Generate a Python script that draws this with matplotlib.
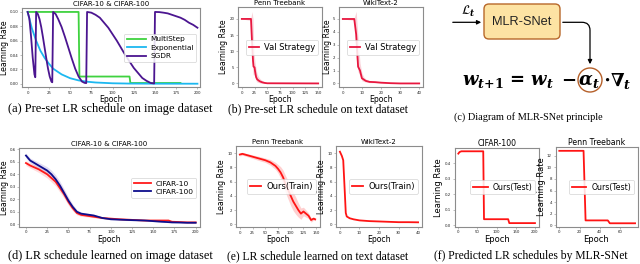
import matplotlib
matplotlib.use("Agg")
import matplotlib.pyplot as plt
from matplotlib.patches import FancyBboxPatch, FancyArrowPatch, Circle

plt.rcParams['font.family'] = ['DejaVu Sans']
plt.rcParams['mathtext.fontset'] = 'dejavuserif'

# ---------------- data ----------------
# (a) preset schedules on image data
ms_epoch = [0, 60, 61, 120, 121, 180]
ms_lr = [0.1, 0.1, 0.01, 0.01, 0.001, 0.001]
exp_epoch = [0, 5, 10, 15, 20, 25, 30, 40, 50, 60, 70, 80, 100, 120, 150, 200]
exp_lr = [0.1, 0.077, 0.060, 0.046, 0.036, 0.028, 0.021, 0.013, 0.0077, 0.0046,
          0.0028, 0.0017, 0.0006, 0.0002, 0.00005, 0.0]
sgdr_epoch = [0, 2, 4, 6, 8, 9,
              10, 12, 14, 16, 18, 20, 22, 24, 26, 28, 29,
              30, 33, 36, 40, 44, 48, 52, 56, 60, 64, 67, 69,
              70, 75, 80, 85, 90, 95, 100, 105, 110, 115, 120, 125, 130, 135, 140, 145, 149,
              150, 155, 160, 165, 170, 175, 180, 185, 190, 195, 200]
sgdr_lr = [0.100, 0.091, 0.066, 0.036, 0.013, 0.009,
           0.100, 0.097, 0.090, 0.079, 0.065, 0.050, 0.035, 0.021, 0.010, 0.003, 0.002,
           0.100, 0.097, 0.090, 0.079, 0.065, 0.050, 0.035, 0.021, 0.010, 0.003, 0.0012, 0.0008,
           0.100, 0.099, 0.096, 0.092, 0.085, 0.078, 0.069, 0.060, 0.050, 0.040, 0.031, 0.022,
           0.015, 0.008, 0.004, 0.001, 0.0003,
           0.100, 0.0998, 0.099, 0.098, 0.096, 0.094, 0.092, 0.089, 0.085, 0.082, 0.078]

# (b) preset schedule on text data
ptb_val_epoch = [0, 18, 20, 22, 23, 25, 26, 28, 30, 33, 36, 40, 45, 50, 150]
ptb_val_lr = [20, 20, 13, 7, 5.2, 5.0, 3.8, 2.0, 1.3, 0.9, 0.6, 0.35, 0.15, 0.05, 0.0]
ptb_val_hi = [20, 20.5, 22.3, 20, 14, 8, 6.5, 4.5, 3, 2, 1.4, 0.9, 0.5, 0.2, 0.05]
ptb_val_lo = [20, 19.5, 8, 3, 2.5, 2.8, 2.0, 0.8, 0.4, 0.3, 0.1, 0.0, 0.0, 0.0, 0.0]
wt2_val_epoch = [0, 6, 7, 8, 9, 10, 11, 12, 14, 17, 20, 25, 30, 40]
wt2_val_lr = [5, 5, 3.8, 1.3, 1.0, 0.4, 0.3, 0.2, 0.12, 0.1, 0.06, 0.02, 0.0, 0.0]
wt2_val_hi = [5, 5.1, 5.6, 3.5, 1.6, 0.8, 0.5, 0.35, 0.2, 0.15, 0.1, 0.04, 0.0, 0.0]
wt2_val_lo = [5, 4.9, 2.0, 0.9, 0.6, 0.2, 0.15, 0.1, 0.06, 0.05, 0.02, 0.0, 0.0, 0.0]

# (d) learned on image data
img_epoch = [0, 5, 10, 15, 20, 25, 30, 35, 40, 45, 50, 55, 60, 65, 70, 75, 80, 85,
             90, 100, 110, 125, 140, 150, 160, 168, 172, 180, 190, 200]
c10_lr = [0.49, 0.47, 0.455, 0.44, 0.42, 0.40, 0.37, 0.34, 0.29, 0.24, 0.18, 0.13,
          0.09, 0.075, 0.07, 0.065, 0.06, 0.055, 0.05, 0.045, 0.04, 0.035, 0.03, 0.03,
          0.03, 0.03, 0.02, 0.018, 0.015, 0.015]
c100_lr = [0.55, 0.51, 0.49, 0.47, 0.45, 0.43, 0.40, 0.36, 0.31, 0.25, 0.19, 0.14,
           0.10, 0.085, 0.08, 0.075, 0.07, 0.06, 0.05, 0.04, 0.037, 0.033, 0.03, 0.025,
           0.02, 0.017, 0.015, 0.014, 0.012, 0.012]
img_std = [0.02, 0.02, 0.022, 0.025, 0.028, 0.03, 0.032, 0.034, 0.034, 0.032, 0.028,
           0.022, 0.016, 0.012, 0.01, 0.009, 0.008, 0.007, 0.006, 0.005, 0.005, 0.005,
           0.004, 0.004, 0.004, 0.004, 0.004, 0.003, 0.003, 0.003]

# (e) learned on text data
ptb_tr_epoch = [0, 5, 10, 25, 40, 50, 60, 70, 75, 80, 85, 90, 95, 100, 105, 110, 115,
                120, 125, 130, 135, 140, 145, 148]
ptb_tr_lr = [9.8, 9.9, 9.8, 9.5, 9.2, 9.0, 8.7, 8.2, 7.8, 7.3, 6.6, 5.6, 4.8, 4.0, 3.2,
             2.6, 2.0, 1.5, 1.8, 1.5, 1.2, 0.6, 0.8, 0.7]
ptb_tr_std = [0.2, 0.2, 0.2, 0.25, 0.3, 0.3, 0.4, 0.5, 0.6, 0.8, 1.0, 1.2, 1.3, 1.4,
              1.3, 1.2, 1.0, 0.8, 0.6, 0.5, 0.4, 0.3, 0.2, 0.2]
wt2_tr_epoch = [0, 1, 1.7, 2.5, 3, 3.5, 5, 7, 10, 15, 20, 25, 30, 35, 40]
wt2_tr_lr = [10.2, 9.6, 9.0, 4.5, 1.6, 1.1, 0.85, 0.7, 0.55, 0.45, 0.4, 0.35, 0.3,
             0.3, 0.28]

# (f) predicted schedules
c100_te_epoch = [0, 3, 8, 65, 67, 130, 133, 200]
c100_te_lr = [0.46, 0.47, 0.475, 0.475, 0.04, 0.04, 0.015, 0.015]
ptb_te_epoch = [0, 24, 26, 48, 50, 75]
ptb_te_lr = [12.9, 12.9, 0.8, 0.8, 0.3, 0.3]

captions = ["(a) Pre-set LR schedule on image dataset",
            "(b) Pre-set LR schedule on text dataset",
            "(c) Diagram of MLR-SNet principle",
            "(d) LR schedule learned on image dataset",
            "(e) LR schedule learned on text dataset",
            "(f) Predicted LR schedules by MLR-SNet"]

# ---------------- figure ----------------
W, H = 640, 264
fig = plt.figure(figsize=(6.4, 2.64), dpi=100)

SPINE = '#8c8c8c'
TICK_FS = 2.8
LAB_FS = 5.6
TIT_FS = 5.0
LEG_FS = 5.6


def add_ax(l, t, r, b):
    ax = fig.add_axes([l / W, 1 - b / H, (r - l) / W, (b - t) / H])
    for s in ax.spines.values():
        s.set_color(SPINE)
        s.set_linewidth(0.8)
    ax.tick_params(labelsize=TICK_FS, length=1.5, width=0.4, pad=1, colors='#222222')
    ax.tick_params(color=SPINE)
    return ax


def decorate(ax, title, tfs=TIT_FS, lfs=LAB_FS, ypad=1.0):
    ax.set_title(title, fontsize=tfs, pad=1.5)
    ax.set_xlabel('Epoch', fontsize=lfs, labelpad=0.5)
    ax.set_ylabel('Learning Rate', fontsize=lfs, labelpad=ypad)


def legend(ax, hl=1.4, fs=LEG_FS):
    lg = ax.legend(loc='center right', fontsize=fs, handlelength=hl, borderpad=0.35,
                   labelspacing=0.3, handletextpad=0.6, framealpha=0.85,
                   edgecolor='#cccccc', fancybox=True)
    lg.get_frame().set_linewidth(0.5)
    return lg


# (a)
ax = add_ax(21.7, 8, 200, 87.3)
ax.plot(ms_epoch, ms_lr, color='#3fd23f', lw=1.3, label='MultiStep')
ax.plot(exp_epoch, exp_lr, color='#1cb8f0', lw=1.3, label='Exponential')
ax.plot(sgdr_epoch, sgdr_lr, color='#4b1590', lw=1.3, label='SGDR')
ax.set_xlim(-7, 203)
ax.set_ylim(-0.005, 0.1055)
ax.set_xticks([0, 25, 50, 75, 100, 125, 150, 175, 200])
ax.set_yticks([0.0, 0.02, 0.04, 0.06, 0.08, 0.10])
ax.set_yticklabels(['0.00', '0.02', '0.04', '0.06', '0.08', '0.10'])
decorate(ax, 'CIFAR-10 & CIFAR-100', ypad=0.3)
legend(ax, hl=2.6, fs=5.3)

# (b)
VAL_C = '#e8173f'
ax = add_ax(238, 7, 322, 87.3)
ax.fill_between(ptb_val_epoch, ptb_val_lo, ptb_val_hi, color='#f4a8b6', alpha=0.5, lw=0)
ax.plot(ptb_val_epoch, ptb_val_lr, color=VAL_C, lw=1.3, label='Val Strategy')
ax.set_xlim(-7.5, 157.5)
ax.set_ylim(-1.2, 23.7)
ax.set_xticks([0, 25, 50, 75, 100, 125, 150])
ax.set_yticks([0, 5, 10, 15, 20])
decorate(ax, 'Penn Treebank')
legend(ax, hl=1.2, fs=6.0)

ax = add_ax(339, 7, 423, 87.3)
ax.fill_between(wt2_val_epoch, wt2_val_lo, wt2_val_hi, color='#f4a8b6', alpha=0.5, lw=0)
ax.plot(wt2_val_epoch, wt2_val_lr, color=VAL_C, lw=1.3, label='Val Strategy')
ax.set_xlim(-2, 42)
ax.set_ylim(-0.3, 5.93)
ax.set_xticks([0, 10, 20, 30, 40])
ax.set_yticks([0, 1, 2, 3, 4, 5])
decorate(ax, 'WikiText-2')
legend(ax, hl=1.2, fs=6.0)

# (d)
ax = add_ax(19, 148.3, 200, 227)
lo10 = [v - s for v, s in zip(c10_lr, img_std)]
hi10 = [v + s for v, s in zip(c10_lr, img_std)]
lo100 = [v - s for v, s in zip(c100_lr, img_std)]
hi100 = [v + s for v, s in zip(c100_lr, img_std)]
ax.fill_between(img_epoch, lo10, hi10, color='#ff9a9a', alpha=0.35, lw=0)
ax.fill_between(img_epoch, lo100, hi100, color='#9d8fd8', alpha=0.3, lw=0)
ax.plot(img_epoch, c10_lr, color='#ff1a1a', lw=1.3, label='CIFAR-10')
ax.plot(img_epoch, c100_lr, color='#0d0d8c', lw=1.3, label='CIFAR-100')
ax.set_xlim(-8.2, 205.1)
ax.set_ylim(-0.022, 0.608)
ax.set_xticks([0, 25, 50, 75, 100, 125, 150, 175, 200])
ax.set_yticks([0.0, 0.1, 0.2, 0.3, 0.4, 0.5, 0.6])
decorate(ax, 'CIFAR-10 & CIFAR-100', ypad=0.3)
legend(ax, hl=2.3, fs=5.4)

# (e)
RED = '#ff1414'
ax = add_ax(236, 146, 320, 227.3)
ax.fill_between(ptb_tr_epoch, [v - s for v, s in zip(ptb_tr_lr, ptb_tr_std)],
                [v + s for v, s in zip(ptb_tr_lr, ptb_tr_std)], color='#ffb0b0', alpha=0.6, lw=0)
ax.plot(ptb_tr_epoch, ptb_tr_lr, color=RED, lw=1.3, label='Ours(Train)')
ax.set_xlim(-7.5, 157.5)
ax.set_ylim(-0.42, 11.0)
ax.set_xticks([0, 25, 50, 75, 100, 125, 150])
ax.set_yticks([0, 2, 4, 6, 8, 10])
decorate(ax, 'Penn Treebank')
legend(ax, hl=1.4, fs=6.0)

ax = add_ax(336, 146, 422, 227.3)
ax.plot(wt2_tr_epoch, wt2_tr_lr, color=RED, lw=1.3, label='Ours(Train)')
ax.set_xlim(-2, 42)
ax.set_ylim(-0.42, 11.0)
ax.set_xticks([0, 10, 20, 30, 40])
ax.set_yticks([0, 2, 4, 6, 8, 10])
decorate(ax, 'WikiText-2')
legend(ax, hl=1.4, fs=6.0)

# (f)
ax = add_ax(454.5, 147.7, 538.8, 226.7)
ax.plot(c100_te_epoch, c100_te_lr, color=RED, lw=1.3, label='Ours(Test)')
ax.set_xlim(-10, 210)
ax.set_ylim(-0.008, 0.498)
ax.set_xticks([0, 50, 100, 150, 200])
ax.set_yticks([0.0, 0.1, 0.2, 0.3, 0.4])
decorate(ax, 'CIFAR-100', tfs=5.6, lfs=6.0)
legend(ax, hl=1.9, fs=5.6)

ax = add_ax(555.5, 147.2, 637.5, 226.9)
ax.plot(ptb_te_epoch, ptb_te_lr, color=RED, lw=1.3, label='Ours(Test)')
ax.set_xlim(-3.76, 77.4)
ax.set_ylim(-0.33, 13.53)
ax.set_xticks([0, 20, 40, 60])
ax.set_yticks([0, 2, 4, 6, 8, 10, 12])
decorate(ax, 'Penn Treebank', tfs=5.6, lfs=6.0)
legend(ax, hl=1.9, fs=5.6)

# ---------------- overlay: diagram + captions ----------------
ov = fig.add_axes([0, 0, 1, 1], zorder=-1)
ov.set_xlim(0, W)
ov.set_ylim(H, 0)
ov.axis('off')

box = FancyBboxPatch((484, 4), 76, 35, boxstyle='round,pad=0,rounding_size=5',
                     fc='#fde3a3', ec='#b8682a', lw=1.0)
ov.add_patch(box)
ov.text(522, 22, 'MLR-SNet', ha='center', va='center', fontsize=9.2,
        family='Liberation Sans', color='#222222')
ov.add_patch(FancyArrowPatch((450, 22.3), (484, 22.3), arrowstyle='-|>',
                             mutation_scale=6, lw=0.9, color='black'))
ov.text(468, 11, r'$\mathcal{L}_{\mathbfit{t}}$', ha='center', va='center',
        fontsize=9)
ov.add_patch(FancyArrowPatch((560, 22.3), (590, 67), arrowstyle='-|>',
                             connectionstyle='angle,angleA=0,angleB=90,rad=8',
                             mutation_scale=6, lw=0.9, color='black'))
ov.add_patch(Circle((590, 80), 12, fc='none', ec='#b5602a', lw=1.0))
EQ_FS = 13
ov.text(508, 81, r'$\mathbfit{w}_{\mathbfit{t}\mathbf{+1}}\,\mathbf{=}\,\mathbfit{w}_{\mathbfit{t}}$',
        ha='center', va='center', fontsize=EQ_FS)
ov.text(569, 80, r'$\mathbf{-}$', ha='center', va='center', fontsize=EQ_FS)
ov.text(589, 81, r'$\mathbfit{\alpha}_{\mathbfit{t}}$', ha='center', va='center', fontsize=EQ_FS)
ov.text(607, 80, r'$\mathbf{\cdot}$', ha='center', va='center', fontsize=EQ_FS)
ov.text(621, 81, r'$\mathbf{\nabla}_{\mathbfit{t}}$', ha='center', va='center', fontsize=EQ_FS)

cap_pos = [(110, 109, 9.0), (318, 109, 8.4), (528, 117, 7.4),
           (110, 256.5, 8.8), (318, 256.5, 8.4), (531, 256.5, 8.4)]
for txt, (cx, cy, fs) in zip(captions, cap_pos):
    ov.text(cx, cy, txt, ha='center', va='center', fontsize=fs, family='Liberation Serif')

fig.savefig('out.png', dpi=100)
